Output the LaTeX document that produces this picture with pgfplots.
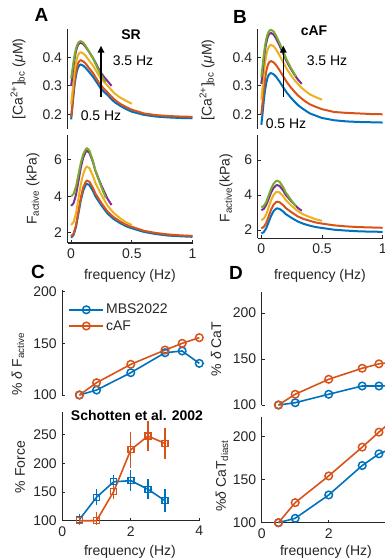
\documentclass[border=0pt]{standalone}
\usepackage{fontspec}
\setmainfont{Liberation Sans}
\usepackage{pgfplots}
\pgfplotsset{compat=1.18}
\usetikzlibrary{arrows.meta}
\definecolor{axcol}{RGB}{38,38,38}
\definecolor{mblue}{RGB}{0,114,189}
\definecolor{morange}{RGB}{217,83,25}
\definecolor{myellow}{RGB}{237,177,32}
\definecolor{mpurple}{RGB}{126,47,142}
\definecolor{mgreen}{RGB}{119,172,48}
\newcommand{\fs}{\fontsize{14}{16}\selectfont}
\pgfplotsset{
  base/.style={
    scale only axis, anchor=north west,
    axis line style={axcol, line width=1.2pt},
    every inner x axis line/.append style={-},
    every outer x axis line/.append style={-},
    every inner y axis line/.append style={-},
    every outer y axis line/.append style={-},
    every tick/.style={axcol, line width=1pt},
    major tick length=3pt,
    tick align=inside,
    tick label style={font=\fs, text=axcol},
    /pgf/number format/assume math mode=true,
    clip=false,
    axis y line*=left,
    yticklabel style={xshift=-2pt},
    xticklabel style={yshift=-2pt},
  },
  topax/.style={base, axis x line=none},
  botax/.style={base, axis x line*=bottom},
  crv/.style={line width=2pt, no markers},
  pts/.style={line width=1.6pt, mark=o, mark size=3.8pt, mark options={solid, line width=1.5pt}},
}
\begin{document}
\begin{tikzpicture}
\useasboundingbox (0pt,0pt) rectangle (385pt,-560pt);
% ---------------- A top
\begin{axis}[topax, at={(67.5pt,-29pt)}, width=125pt, height=99.5pt,
  xmin=-0.03, xmax=1, ymin=0.15, ymax=0.5, ytick={0.2,0.3,0.4}]
\addplot[crv, mblue] coordinates {(0,0.182) (0.01,0.223) (0.02,0.270) (0.03,0.309) (0.04,0.336) (0.05,0.356) (0.06,0.367) (0.07,0.373) (0.08,0.375) (0.10,0.371) (0.12,0.363) (0.15,0.348) (0.18,0.332) (0.21,0.313) (0.24,0.293) (0.27,0.279) (0.30,0.268) (0.33,0.254) (0.36,0.242) (0.40,0.231) (0.45,0.219) (0.50,0.209) (0.60,0.198) (0.70,0.192) (0.80,0.189) (0.90,0.187) (1.00,0.186)};
\addplot[crv, morange] coordinates {(0,0.19) (0.01,0.234) (0.02,0.282) (0.03,0.322) (0.04,0.350) (0.05,0.370) (0.06,0.382) (0.07,0.388) (0.08,0.390) (0.10,0.386) (0.12,0.378) (0.15,0.361) (0.18,0.345) (0.21,0.324) (0.24,0.304) (0.27,0.290) (0.30,0.277) (0.33,0.263) (0.36,0.251) (0.40,0.238) (0.45,0.226) (0.50,0.216) (0.60,0.203) (0.70,0.197) (0.80,0.194) (0.90,0.192) (1.00,0.191)};
\addplot[crv, myellow] coordinates {(0,0.235) (0.01,0.275) (0.02,0.319) (0.03,0.356) (0.04,0.381) (0.05,0.400) (0.06,0.411) (0.07,0.416) (0.08,0.418) (0.10,0.414) (0.12,0.405) (0.15,0.388) (0.18,0.371) (0.21,0.350) (0.24,0.329) (0.27,0.314) (0.30,0.301) (0.33,0.286) (0.36,0.273) (0.40,0.260) (0.45,0.248) (0.50,0.237)};
\addplot[crv, mpurple] coordinates {(0,0.300) (0.01,0.336) (0.02,0.372) (0.03,0.401) (0.04,0.422) (0.05,0.437) (0.06,0.446) (0.07,0.450) (0.08,0.452) (0.10,0.447) (0.12,0.437) (0.15,0.418) (0.18,0.398) (0.21,0.374) (0.24,0.349) (0.27,0.332) (0.30,0.317) (0.333,0.300)};
\addplot[crv, mgreen] coordinates {(0,0.326) (0.01,0.355) (0.02,0.386) (0.03,0.412) (0.04,0.431) (0.05,0.444) (0.06,0.452) (0.07,0.456) (0.08,0.457) (0.10,0.452) (0.12,0.440) (0.15,0.419) (0.18,0.397) (0.21,0.369) (0.24,0.342) (0.27,0.322) (0.286,0.314)};
\end{axis}
% ---------------- A bottom
\begin{axis}[botax, at={(67.5pt,-135pt)}, width=125pt, height=108pt,
  xmin=-0.03, xmax=1, ymin=1.43, ymax=7.37, ytick={2,4,6}, xtick={0,0.5,1}]
\addplot[crv, mblue] coordinates {(0,1.72) (0.02,1.87) (0.04,2.31) (0.06,3.05) (0.08,3.79) (0.10,4.32) (0.12,4.62) (0.13,4.68) (0.15,4.62) (0.18,4.29) (0.20,4.00) (0.25,3.49) (0.30,3.05) (0.35,2.75) (0.40,2.54) (0.45,2.36) (0.50,2.24) (0.60,2.04) (0.70,1.92) (0.80,1.84) (0.90,1.80) (1.00,1.77)};
\addplot[crv, morange] coordinates {(0,1.80) (0.02,1.95) (0.04,2.41) (0.06,3.18) (0.08,3.94) (0.10,4.49) (0.12,4.80) (0.13,4.86) (0.15,4.80) (0.18,4.46) (0.20,4.15) (0.25,3.62) (0.30,3.16) (0.35,2.85) (0.40,2.63) (0.45,2.44) (0.50,2.32) (0.60,2.10) (0.70,1.98) (0.80,1.90) (0.90,1.85) (1.00,1.82)};
\addplot[crv, myellow] coordinates {(0,2.42) (0.02,2.58) (0.04,3.06) (0.06,3.86) (0.08,4.67) (0.10,5.24) (0.12,5.57) (0.13,5.63) (0.15,5.55) (0.18,5.12) (0.20,4.73) (0.25,4.07) (0.30,3.48) (0.35,3.09) (0.40,2.81) (0.45,2.58) (0.50,2.42)};
\addplot[crv, mpurple] coordinates {(0,3.47) (0.02,3.62) (0.04,4.08) (0.06,4.83) (0.08,5.59) (0.10,6.14) (0.12,6.44) (0.13,6.50) (0.15,6.40) (0.18,5.88) (0.20,5.40) (0.25,4.58) (0.30,3.86) (0.333,3.52)};
\addplot[crv, mgreen] coordinates {(0,4.00) (0.02,4.13) (0.04,4.53) (0.06,5.19) (0.08,5.85) (0.10,6.32) (0.12,6.59) (0.13,6.64) (0.15,6.53) (0.18,5.94) (0.20,5.40) (0.25,4.49) (0.286,3.90)};
\end{axis}
% ---------------- B top
\begin{axis}[topax, at={(257.7pt,-29pt)}, width=125pt, height=99.5pt,
  xmin=-0.03, xmax=1, ymin=0.15, ymax=0.5, ytick={0.2,0.3,0.4}]
\addplot[crv, mblue] coordinates {(0,0.163) (0.01,0.203) (0.02,0.247) (0.03,0.283) (0.04,0.309) (0.05,0.327) (0.06,0.338) (0.07,0.343) (0.08,0.345) (0.10,0.341) (0.12,0.333) (0.15,0.315) (0.18,0.295) (0.21,0.276) (0.24,0.260) (0.27,0.246) (0.30,0.233) (0.33,0.223) (0.36,0.214) (0.40,0.203) (0.45,0.195) (0.50,0.187) (0.60,0.179) (0.70,0.175) (0.80,0.173) (0.90,0.172) (1.00,0.171)};
\addplot[crv, morange] coordinates {(0,0.200) (0.01,0.241) (0.02,0.286) (0.03,0.323) (0.04,0.350) (0.05,0.368) (0.06,0.380) (0.07,0.385) (0.08,0.387) (0.10,0.383) (0.12,0.374) (0.15,0.355) (0.18,0.334) (0.21,0.313) (0.24,0.296) (0.27,0.281) (0.30,0.267) (0.33,0.256) (0.36,0.246) (0.40,0.235) (0.45,0.226) (0.50,0.218) (0.60,0.208) (0.70,0.205) (0.80,0.203) (0.90,0.201) (1.00,0.200)};
\addplot[crv, myellow] coordinates {(0,0.252) (0.01,0.294) (0.02,0.340) (0.03,0.379) (0.04,0.406) (0.05,0.425) (0.06,0.436) (0.07,0.442) (0.08,0.444) (0.10,0.440) (0.12,0.429) (0.15,0.407) (0.18,0.383) (0.21,0.359) (0.24,0.340) (0.27,0.322) (0.30,0.307) (0.33,0.294) (0.36,0.283) (0.40,0.270) (0.45,0.260) (0.50,0.251)};
\addplot[crv, mpurple] coordinates {(0,0.307) (0.01,0.346) (0.02,0.389) (0.03,0.425) (0.04,0.450) (0.05,0.468) (0.06,0.479) (0.07,0.484) (0.08,0.486) (0.10,0.481) (0.12,0.468) (0.15,0.442) (0.18,0.413) (0.21,0.385) (0.24,0.362) (0.27,0.341) (0.30,0.323) (0.333,0.307)};
\addplot[crv, mgreen] coordinates {(0,0.331) (0.01,0.368) (0.02,0.407) (0.03,0.440) (0.04,0.464) (0.05,0.480) (0.06,0.490) (0.07,0.495) (0.08,0.497) (0.10,0.492) (0.12,0.478) (0.15,0.451) (0.18,0.421) (0.21,0.391) (0.24,0.366) (0.27,0.344) (0.286,0.333)};
\end{axis}
% ---------------- B bottom
\begin{axis}[botax, at={(257.7pt,-135pt)}, width=125pt, height=103.3pt,
  xmin=-0.03, xmax=1, ymin=1.53, ymax=7.43, ytick={2,4,6}, xtick={0,0.5,1}]
\addplot[crv, mblue] coordinates {(0,1.81) (0.02,1.88) (0.04,2.10) (0.06,2.45) (0.08,2.81) (0.10,3.07) (0.12,3.21) (0.13,3.24) (0.15,3.21) (0.18,3.06) (0.20,2.92) (0.25,2.69) (0.30,2.49) (0.35,2.35) (0.40,2.25) (0.45,2.17) (0.50,2.12) (0.60,2.02) (0.70,1.97) (0.80,1.93) (0.90,1.91) (1.00,1.90)};
\addplot[crv, morange] coordinates {(0,2.10) (0.02,2.18) (0.04,2.40) (0.06,2.78) (0.08,3.16) (0.10,3.44) (0.12,3.59) (0.13,3.62) (0.15,3.59) (0.18,3.42) (0.20,3.27) (0.25,3.01) (0.30,2.78) (0.35,2.63) (0.40,2.53) (0.45,2.43) (0.50,2.37) (0.60,2.27) (0.70,2.21) (0.80,2.17) (0.90,2.15) (1.00,2.13)};
\addplot[crv, myellow] coordinates {(0,2.57) (0.02,2.65) (0.04,2.89) (0.06,3.30) (0.08,3.70) (0.10,4.00) (0.12,4.16) (0.13,4.19) (0.15,4.15) (0.18,3.93) (0.20,3.73) (0.25,3.38) (0.30,3.08) (0.35,2.88) (0.40,2.74) (0.45,2.61) (0.50,2.53)};
\addplot[crv, mpurple] coordinates {(0,3.14) (0.02,3.21) (0.04,3.43) (0.06,3.78) (0.08,4.14) (0.10,4.40) (0.12,4.54) (0.13,4.57) (0.15,4.52) (0.18,4.26) (0.20,4.02) (0.25,3.62) (0.30,3.27) (0.333,3.10)};
\addplot[crv, mgreen] coordinates {(0,3.30) (0.02,3.38) (0.04,3.60) (0.06,3.98) (0.08,4.36) (0.10,4.64) (0.12,4.79) (0.13,4.82) (0.15,4.76) (0.18,4.45) (0.20,4.16) (0.25,3.67) (0.286,3.35)};
\end{axis}
% ---------------- C top
\begin{axis}[topax, at={(62.3pt,-290pt)}, width=137pt, height=105pt,
  xmin=0, xmax=4, ymin=100, ymax=201.6, ytick={100,150,200},
  legend style={draw=none, fill=none, at={(0.044,0.886)}, anchor=north west,
    font=\fs, text=axcol, inner sep=0pt, row sep=1pt,
    /tikz/every even column/.append style={column sep=6pt}},
  legend cell align=left,
  legend image code/.code={\draw[mark repeat=2,mark phase=2] plot coordinates {(0pt,0pt) (17pt,0pt) (34pt,0pt)};}]
\addplot[pts, mblue] coordinates {(0.5,100) (1,104.8) (2,121.6) (3,140.9) (3.5,142.6) (4,130.6)};
\addplot[pts, morange] coordinates {(0.5,100) (1,111.9) (2,129.7) (3,143.5) (3.5,150) (4,155.5)};
\legend{MBS2022, cAF}
\end{axis}
% ---------------- C bottom
\begin{axis}[botax, at={(62.3pt,-411.7pt)}, width=137pt, height=109pt,
  xmin=0, xmax=4, ymin=100, ymax=290.5, ytick={100,150,200,250}, xtick={0,2,4}]
\addplot[mblue, line width=1.6pt, mark=square, mark size=3pt, mark options={solid, line width=1.4pt},
  error bars/.cd, y dir=both, y explicit, error bar style={line width=1.3pt},
  error mark options={mark size=4.5pt, line width=1.3pt, mblue}]
  table[x=x, y=y, y error plus=ep, y error minus=em] {
x y ep em
0.5 102 2 2
1 141 6 6
1.5 168 4 4
2 170 10 10
2.5 155 10 10
3 135 12 12
};
\addplot[morange, line width=1.6pt, mark=square, mark size=3pt, mark options={solid, line width=1.4pt},
  error bars/.cd, y dir=both, y explicit, error bar style={line width=1.3pt},
  error mark options={mark size=4.5pt, line width=1.3pt, morange}]
  table[x=x, y=y, y error plus=ep, y error minus=em] {
x y ep em
0.5 100 0 0
1 100 8 0
1.5 151 5 5
2 224 24 24
2.5 248 19 19
3 235 19 19
};
\end{axis}
% ---------------- D top
\begin{axis}[topax, at={(261.7pt,-292pt)}, width=134pt, height=113pt,
  xmin=0, xmax=4, ymin=100, ymax=223, ytick={100,150,200}]
\addplot[pts, mblue] coordinates {(0.5,100) (1,102.5) (2,111.7) (3,120.7) (3.5,120.7) (4,121)};
\addplot[pts, morange] coordinates {(0.5,100) (1,111.7) (2,128) (3,140) (3.5,144.8) (4,147)};
\end{axis}
% ---------------- D bottom
\begin{axis}[botax, at={(261.7pt,-416.7pt)}, width=134pt, height=106pt,
  xmin=0, xmax=4, ymin=100, ymax=223, ytick={100,150,200}, xtick={0,2,4}]
\addplot[pts, mblue] coordinates {(0.5,100) (1,105.1) (2,132.2) (3,166.3) (3.5,179.9) (4,188)};
\addplot[pts, morange] coordinates {(0.5,100) (1,123.3) (2,154.3) (3,187.7) (3.5,205.1) (4,222)};
\end{axis}
% ---------------- labels
\begin{scope}[every node/.style={font=\fs, text=axcol, inner sep=0pt}]
\node[rotate=90] at (18pt,-79pt) {[Ca\textsuperscript{2+}]\textsubscript{bc} (\textit{μ}M)};
\node[rotate=90] at (33pt,-189pt) {F\textsubscript{active} (kPa)};
\node[rotate=90] at (207pt,-80pt) {[Ca\textsuperscript{2+}]\textsubscript{bc} (\textit{μ}M)};
\node[rotate=90] at (226pt,-188pt) {F\textsubscript{active}(kPa)};
\node[rotate=90] at (18pt,-364pt) {\% \textit{δ} F\textsubscript{active}};
\node[rotate=90] at (20pt,-467pt) {\% Force};
\node[rotate=90] at (216pt,-349pt) {\% \textit{δ} CaT};
\node[rotate=90] at (222pt,-476pt) {\%\textit{δ} CaT\textsubscript{diast}};
\node at (130pt,-276pt) {frequency (Hz)};
\node at (320pt,-276pt) {frequency (Hz)};
\node at (130pt,-552pt) {frequency (Hz)};
\node at (326pt,-552pt) {frequency (Hz)};
\node[text=black] at (133pt,-61pt) {3.5 Hz};
\node[text=black] at (101pt,-116pt) {0.5 Hz};
\node[text=black] at (327pt,-61pt) {3.5 Hz};
\node[text=black] at (286pt,-124pt) {0.5 Hz};
\node[text=black, font=\fs\bfseries] at (131pt,-35pt) {SR};
\node[text=black, font=\fs\bfseries] at (314pt,-31pt) {cAF};
\node[text=black, font=\fs\bfseries] at (137pt,-415pt) {Schotten et al. 2002};
\node[text=black, font=\fontsize{19}{21}\selectfont\bfseries] at (41.5pt,-15pt) {A};
\node[text=black, font=\fontsize{19}{21}\selectfont\bfseries] at (240pt,-16.5pt) {B};
\node[text=black, font=\fontsize{19}{21}\selectfont\bfseries] at (38pt,-272pt) {C};
\node[text=black, font=\fontsize{19}{21}\selectfont\bfseries] at (236pt,-273pt) {D};
\end{scope}
\draw[line width=1.6pt, -{Triangle[width=6.5pt,length=7pt]}] (101pt,-97pt) -- (101pt,-45.7pt);
\draw[line width=1.6pt, -{Triangle[width=6.5pt,length=7pt]}] (283.3pt,-97pt) -- (283.3pt,-45.7pt);
\end{tikzpicture}
\end{document}
